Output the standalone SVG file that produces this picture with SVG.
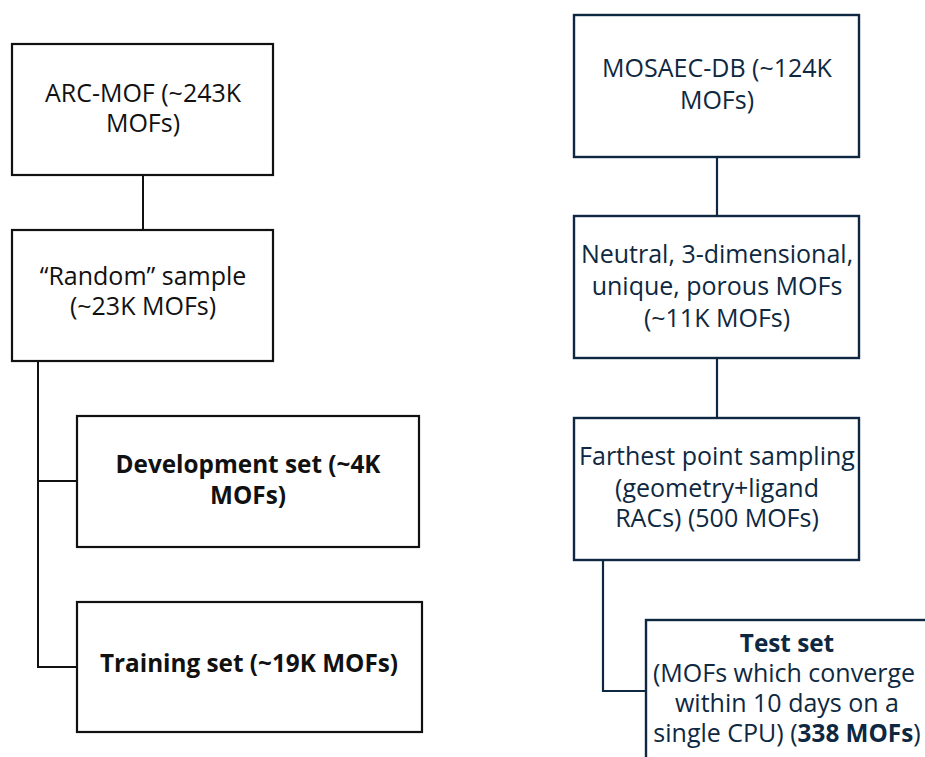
<svg xmlns="http://www.w3.org/2000/svg" width="925" height="757" viewBox="0 0 925 757">
<style>
.l{fill:#fff;stroke:#111;stroke-width:2.2}
.r{fill:#fff;stroke:#0e2841;stroke-width:2.4}
.cl{fill:none;stroke:#111;stroke-width:2}
.cr{fill:none;stroke:#0e2841;stroke-width:2.2}
text{font-family:"Open Sans","Liberation Sans",sans-serif;font-size:25px;text-anchor:middle}
.tl{fill:#111}
.tr{fill:#0e2841}
.b{font-weight:bold;font-size:24.3px}
</style>
<rect width="925" height="757" fill="#fff"/>
<g id="connectors">
<path class="cl" d="M143 175V230"/>
<path class="cl" d="M38 361V667H77M38 481H77"/>
<path class="cr" d="M717 157V216"/>
<path class="cr" d="M717 358V418"/>
<path class="cr" d="M603 560V691H646"/>
</g>
<g id="arcmof">
<rect class="l" x="12" y="44" width="261" height="131"/>
<text class="tl" x="143" y="102">ARC-MOF (~243K</text>
<text class="tl" x="143" y="132">MOFs)</text>
</g>
<g id="random">
<rect class="l" x="12" y="230" width="261" height="131"/>
<text class="tl" x="143" y="285">“Random” sample</text>
<text class="tl" x="143" y="315">(~23K MOFs)</text>
</g>
<g id="dev">
<rect class="l" x="77" y="416" width="342" height="131"/>
<text class="tl b" x="248" y="473">Development set (~4K</text>
<text class="tl b" x="248" y="504">MOFs)</text>
</g>
<g id="train">
<rect class="l" x="77" y="602" width="345" height="130"/>
<text class="tl b" x="249" y="672">Training set (~19K MOFs)</text>
</g>
<g id="mosaec">
<rect class="r" x="574" y="15" width="285" height="142"/>
<text class="tr" x="717" y="77">MOSAEC-DB (~124K</text>
<text class="tr" x="717" y="109">MOFs)</text>
</g>
<g id="neutral">
<rect class="r" x="574" y="216" width="285" height="142"/>
<text class="tr" x="717" y="263">Neutral, 3-dimensional,</text>
<text class="tr" x="717" y="295">unique, porous MOFs</text>
<text class="tr" x="717" y="327">(~11K MOFs)</text>
</g>
<g id="fps">
<rect class="r" x="574" y="418" width="285" height="142"/>
<text class="tr" x="717" y="465">Farthest point sampling</text>
<text class="tr" x="717" y="497">(geometry+ligand</text>
<text class="tr" x="717" y="527">RACs) (500 MOFs)</text>
</g>
<g id="test">
<rect class="r" x="646" y="620" width="290" height="150"/>
<text class="tr b" x="787" y="652">Test set</text>
<text class="tr" x="784" y="682">(MOFs which converge</text>
<text class="tr" x="787" y="712">within 10 days on a</text>
<text class="tr" x="787" y="742">single CPU) (<tspan class="b">338 MOFs</tspan>)</text>
</g>
</svg>
